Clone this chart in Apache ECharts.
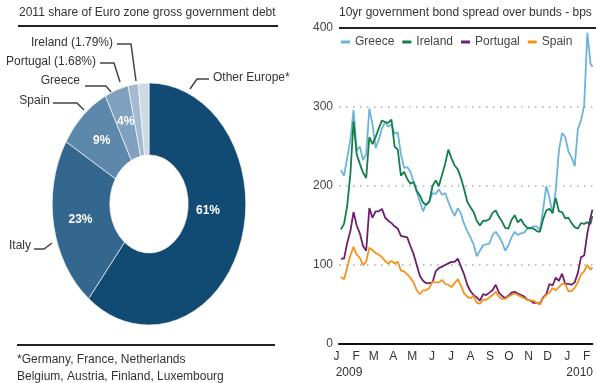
<!DOCTYPE html>
<html><head><meta charset="utf-8">
<script src="https://cdn.jsdelivr.net/npm/echarts@6/dist/echarts.min.js"></script>
<style>html,body{margin:0;padding:0;background:#fff}#c{width:596px;height:383px}</style>
</head><body><div id="c"></div>
<script>
// ---------- data: bond spreads (bps over bunds) ----------
const dates = ['2009-01-04','2009-01-09','2009-01-14','2009-01-19','2009-01-24','2009-01-29',
'2009-02-03','2009-02-08','2009-02-13','2009-02-18','2009-02-23','2009-02-28',
'2009-03-05','2009-03-10','2009-03-15','2009-03-20','2009-03-25','2009-03-30',
'2009-04-04','2009-04-09','2009-04-14','2009-04-19','2009-04-24','2009-04-29',
'2009-05-04','2009-05-09','2009-05-14','2009-05-19','2009-05-24','2009-05-29',
'2009-06-03','2009-06-08','2009-06-13','2009-06-18','2009-06-23','2009-06-28',
'2009-07-03','2009-07-08','2009-07-13','2009-07-18','2009-07-23','2009-07-28',
'2009-08-02','2009-08-07','2009-08-12','2009-08-17','2009-08-22','2009-08-27',
'2009-09-01','2009-09-06','2009-09-11','2009-09-16','2009-09-21','2009-09-26',
'2009-10-01','2009-10-06','2009-10-11','2009-10-16','2009-10-21','2009-10-26','2009-10-31',
'2009-11-05','2009-11-10','2009-11-15','2009-11-20','2009-11-25','2009-11-30',
'2009-12-05','2009-12-10','2009-12-15','2009-12-20','2009-12-25','2009-12-30',
'2010-01-04','2010-01-09','2010-01-14','2010-01-19','2010-01-24','2010-01-29',
'2010-02-03','2010-02-06'];
const greece = [220,213,236,258,296,245,250,233,240,298,278,248,259,273,281,275,278,266,268,240,
223,224,218,206,192,180,168,177,181,191,190,196,189,191,180,170,162,172,165,152,
143,135,126,111,118,125,126,127,138,142,136,129,118,125,135,142,138,140,141,146,
146,149,149,144,170,200,185,165,195,245,267,262,244,236,225,272,283,302,394,355,351];
const ireland = [145,152,175,215,282,240,228,217,210,262,253,262,273,283,281,280,284,250,246,213,
218,209,203,205,194,188,179,176,180,200,207,200,214,228,246,235,226,221,210,196,
180,173,167,156,150,156,156,158,166,169,161,155,147,146,157,163,154,158,151,147,
147,146,143,142,158,169,171,166,185,168,167,159,160,153,148,146,153,152,154,152,162];
const portugal = [108,108,128,143,167,150,140,124,118,172,160,168,168,171,160,156,153,149,146,137,
136,135,124,114,100,86,80,77,77,78,92,96,98,100,102,104,104,108,98,88,
75,67,62,59,55,63,62,65,68,75,65,61,58,61,65,66,64,62,60,56,
55,52,52,51,59,63,76,74,84,80,89,76,76,75,78,90,110,112,140,160,170];
const spain = [85,82,97,112,123,113,109,100,104,122,119,115,113,110,105,102,105,102,104,93,
92,88,84,78,68,63,68,68,71,79,78,78,81,76,75,72,77,82,74,64,
60,58,61,52,51,56,56,59,62,66,60,57,57,60,62,64,62,60,58,56,
55,55,52,50,58,62,65,71,68,72,76,76,67,67,71,78,88,92,100,94,97];
const seriesNames = ['Greece','Ireland','Portugal','Spain'];
const monthStarts = ['2009-01-01','2009-02-01','2009-03-01','2009-04-01','2009-05-01','2009-06-01',
'2009-07-01','2009-08-01','2009-09-01','2009-10-01','2009-11-01','2009-12-01','2010-01-01','2010-02-01'];
const monthLabels = ['J','F','M','A','M','J','J','A','S','O','N','D','J','F'];
const yearStarts = ['2009-01-01','2010-01-01'];
const yearLabels = ['2009','2010'];
const xRange = ['2009-01-01','2010-02-06'];

// ---------- data: share of euro zone gross government debt ----------
const pieNames = ['Other Europe*','Italy','Spain','Greece','Portugal (1.68%)','Ireland (1.79%)'];
const pieValues = [61, 23, 9, 4, 1.68, 1.79];
const pieInside = ['61%','23%','9%','4%','',''];
const footnote = ['*Germany, France, Netherlands','Belgium, Austria, Finland, Luxembourg'];

// ---------- styles ----------
const FONT = '"Liberation Sans", Arial, sans-serif';
const lineColors = ['#6cb4d8','#12804a','#6e1f6e','#f7921e'];
const pieColors = ['#114b73','#34678e','#5d88ab','#7fa1be','#a3bbd0','#cddae6'];
const PIE = {cx:149, cy:204, r:121, r0:49, sx:0.8, labelR:87, bigLabelR:74, bigLabelDeg:95};

// dates -> day number since the axis start (value axis in days)
const DAY = 86400000;
function ts(s){const p=s.split('-').map(Number);return Date.UTC(p[0],p[1]-1,p[2]);}
const t0 = ts(xRange[0]);
function dayOf(s){return Math.round((ts(s)-t0)/DAY);}
const monthDays = monthStarts.map(dayOf);
const yearDays = yearStarts.map(dayOf);
function nearest(arr, v){let b=0;for(let i=1;i<arr.length;i++){if(Math.abs(arr[i]-v)<Math.abs(arr[b]-v))b=i;}return b;}

const lineData = [greece, ireland, portugal, spain];
const total = pieValues.reduce((a,b)=>a+b,0);

function renderSlice(params, api){
  const i = params.dataIndex;
  let before = 0; for(let k=0;k<i;k++) before += pieValues[k];
  const a0 = -Math.PI/2 + before/total*2*Math.PI;
  const a1 = a0 + api.value(0)/total*2*Math.PI;
  const children = [{
    type:'group', x:PIE.cx, y:PIE.cy, scaleX:PIE.sx,
    children:[{type:'sector', shape:{cx:0,cy:0,r:PIE.r,r0:PIE.r0,startAngle:a0,endAngle:a1,clockwise:true},
      style:{fill:pieColors[i], stroke:'#ffffff', lineWidth:0.7}}]
  }];
  if (pieInside[i]) {
    let am = (a0+a1)/2, lr = PIE.labelR;
    if (api.value(0)/total > 0.5) { am = -Math.PI/2 + PIE.bigLabelDeg*Math.PI/180; lr = PIE.bigLabelR; }
    children.push({type:'text', x:PIE.cx + PIE.sx*lr*Math.cos(am), y:PIE.cy + lr*Math.sin(am),
      style:{text:pieInside[i], fill:'#fff', font:'bold 12px '+FONT, align:'center', verticalAlign:'middle'}});
  }
  return {type:'group', children};
}

// outside pie labels (annotation layout)
const outLabels = [
  {name:pieNames[0], tx:213, ty:78, align:'left', pts:[[190,89],[197,79],[209,79]]},
  {name:pieNames[1], tx:31, ty:246, align:'right', pts:[[34,249],[44,249],[52,243]]},
  {name:pieNames[2], tx:50, ty:101, align:'right', pts:[[53,103],[77,103],[84,110]]},
  {name:pieNames[3], tx:80, ty:81, align:'right', pts:[[85,86],[106,86],[111,92]]},
  {name:pieNames[4], tx:96, ty:62, align:'right', pts:[[100,63],[114,63],[120,82]]},
  {name:pieNames[5], tx:113, ty:43, align:'right', pts:[[117,44],[131,44],[136,81]]}
];
const graphics = [];
outLabels.forEach(l=>{
  graphics.push({type:'polyline', shape:{points:l.pts}, style:{stroke:'#444', lineWidth:1.5, fill:null}, silent:true});
  graphics.push({type:'text', x:l.tx, y:l.ty, style:{text:l.name, fill:'#333', font:'12px '+FONT, align:l.align, verticalAlign:'middle'}});
});
graphics.push({type:'line', shape:{x1:18,y1:26,x2:278,y2:26}, style:{stroke:'#222', lineWidth:2}});
graphics.push({type:'line', shape:{x1:17,y1:345,x2:275,y2:345}, style:{stroke:'#222', lineWidth:2}});
graphics.push({type:'line', shape:{x1:339,y1:28,x2:596,y2:28}, style:{stroke:'#222', lineWidth:2}});
graphics.push({type:'text', x:17, y:360, style:{text:footnote[0], fill:'#333', font:'12px '+FONT, verticalAlign:'middle'}});
graphics.push({type:'text', x:17, y:377, style:{text:footnote[1], fill:'#333', font:'12px '+FONT, verticalAlign:'middle'}});

const chart = echarts.init(document.getElementById('c'), null, {renderer:'canvas'});
chart.setOption({
  animation:false,
  backgroundColor:'#fff',
  title:[
    {text:'2011 share of Euro zone gross government debt', left:19, top:7, padding:0,
     textStyle:{fontSize:12, fontWeight:'normal', color:'#333', fontFamily:FONT}},
    {text:'10yr government bond spread over bunds - bps', left:339, top:7, padding:0,
     textStyle:{fontSize:12, fontWeight:'normal', color:'#333', fontFamily:FONT}}
  ],
  legend:{data:seriesNames, left:341, top:36, padding:0, icon:'rect', itemWidth:9, itemHeight:3, itemGap:8,
    textStyle:{fontSize:12, color:'#444', fontFamily:FONT}},
  grid:{left:339, right:0, top:28, bottom:39, containLabel:false},
  xAxis:[
    {type:'value', min:0, max:dayOf(xRange[1]),
     axisLine:{show:true, onZero:false, lineStyle:{color:'#111', width:2}}, axisTick:{show:false}, splitLine:{show:false},
     axisLabel:{customValues:monthDays, margin:7, color:'#333', fontSize:12, fontFamily:FONT, padding:[0,5,0,0],
       formatter:v=>monthLabels[nearest(monthDays,v)], hideOverlap:false, showMinLabel:true, showMaxLabel:true}},
    {type:'value', min:0, max:dayOf(xRange[1]), position:'bottom',
     axisLine:{show:false}, axisTick:{show:false}, splitLine:{show:false},
     axisLabel:{customValues:yearDays, margin:23, color:'#333', fontSize:12, fontFamily:FONT, padding:[0,0,0,20],
       formatter:v=>yearLabels[nearest(yearDays,v)], hideOverlap:false, showMinLabel:true}}
  ],
  yAxis:{type:'value', min:0, max:400, interval:100,
    axisLine:{show:false}, axisTick:{show:false},
    axisLabel:{color:'#444', fontSize:12, fontFamily:FONT, margin:6},
    splitLine:{show:true, lineStyle:{color:['transparent','#aaa','#aaa','#aaa','transparent'], width:1.5, type:[1.5,5.5]}}},
  series: seriesNames.map((n,k)=>({
    name:n, type:'line', xAxisIndex:0, showSymbol:false, symbol:'none',
    data: dates.map((d,i)=>[dayOf(d), lineData[k][i]]),
    lineStyle:{width:1.8, color:lineColors[k]}, itemStyle:{color:lineColors[k]}
  })).concat([{
    type:'custom', coordinateSystem:'none', renderItem:renderSlice,
    data: pieValues.map(v=>[v]), silent:true
  }]),
  graphic: graphics
});
</script></body></html>
